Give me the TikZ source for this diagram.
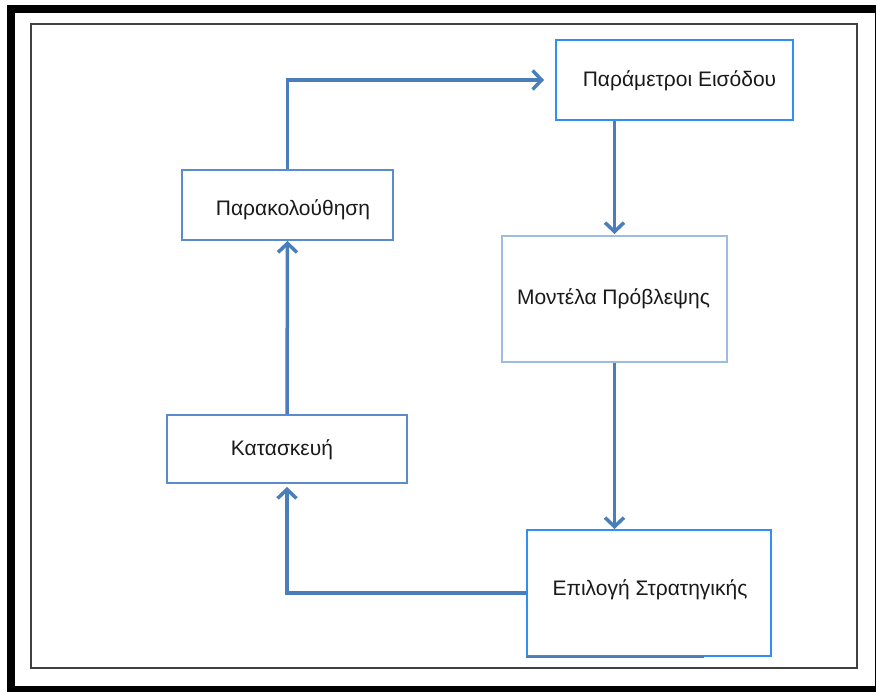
\documentclass[tikz,border=0pt]{standalone}
\usepackage{fontspec}
\setmainfont{Liberation Sans}
\usetikzlibrary{arrows.meta}
\definecolor{arrowc}{HTML}{4A7EBB}
\definecolor{brightb}{HTML}{2F8FF2}
\definecolor{midb}{HTML}{5A8CCB}
\definecolor{lightb}{HTML}{9DBCE0}
\definecolor{framegray}{HTML}{404040}
\definecolor{txt}{HTML}{1A1A1A}
\tikzset{
  box/.style={draw, line width=2pt, fill=white, inner sep=0pt, minimum width=#1},
  lbl/.style={text=txt, font=\fontsize{21}{25}\selectfont, inner sep=0pt},
  flow/.style={draw=arrowc, line width=3.5pt, -{Straight Barb[length=9pt,width=19pt]}}
}
\begin{document}
\begin{tikzpicture}[x=1pt,y=-1pt]
\useasboundingbox (0,0) rectangle (876,692);
% frames
\draw[line width=8pt] (11,9) rectangle (879,690);
\draw[framegray, line width=2.5pt] (31,24) rectangle (857,668);
% boxes
\node[box=237pt, draw=brightb, minimum height=80pt] (param) at (674.5,80) {};
\node[box=211pt, draw=midb, minimum height=70pt] (parak) at (287.5,205) {};
\node[box=225pt, draw=lightb, minimum height=126pt] (model) at (614.5,299) {};
\node[box=240pt, draw=midb, minimum height=68pt] (kat) at (287,449) {};
\node[box=244pt, draw=brightb, minimum height=126pt] (epil) at (649,593) {};
\draw[arrowc, line width=2.5pt] (epil.south west) -- ++(178,0);
% labels
\node[lbl] (tparam) at (679.5,81) {Παράμετροι Εισόδου};
\node[lbl] (tparak) at (293,210) {Παρακολούθηση};
\node[lbl] (tmodel) at (613.5,299) {Μοντέλα Πρόβλεψης};
\node[lbl] (tkat) at (282,450) {Κατασκευή};
\node[lbl] (tepil) at (650,590) {Επιλογή Στρατηγικής};
% connectors
\draw[flow, shorten >=11pt] (parak.north) |- (param.west);
\draw[flow, shorten >=1pt] (param.south -| model.north) -- (model.north);
\draw[flow] (model.south) -- (model.south |- epil.north);
\draw[flow, shorten >=3pt] (epil.west) -| (kat.south);
\draw[flow] (kat.north) -- (parak.south);
\end{tikzpicture}
\end{document}
